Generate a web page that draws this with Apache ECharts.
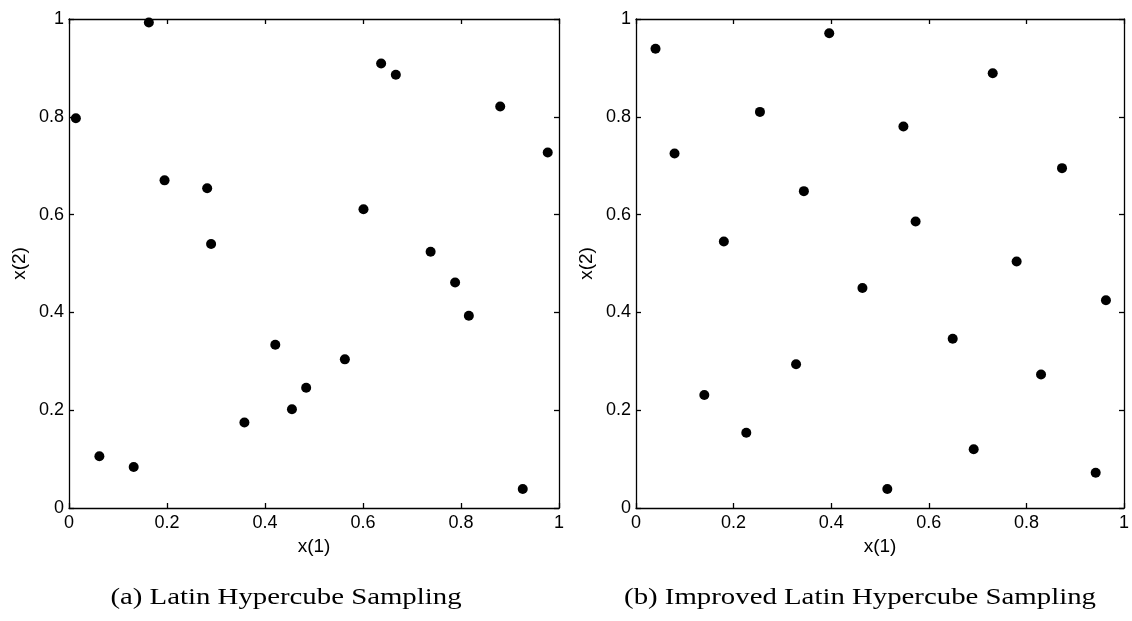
<!DOCTYPE html>
<html>
<head>
<meta charset="utf-8">
<script src="https://cdn.jsdelivr.net/npm/echarts@6/dist/echarts.min.js"></script>
<style>
html,body{margin:0;padding:0;background:#fff;}
#chart{width:1132px;height:621px;}
</style>
</head>
<body>
<div id="chart"></div>
<script>
// Panel (a): Latin Hypercube Sampling
const lhsX1 = [0.163, 0.014, 0.195, 0.282, 0.290, 0.637, 0.667, 0.880, 0.977, 0.601, 0.738, 0.062, 0.132, 0.358, 0.421, 0.455, 0.788, 0.816, 0.563, 0.484, 0.926];
const lhsX2 = [0.993, 0.797, 0.670, 0.654, 0.540, 0.909, 0.886, 0.821, 0.727, 0.611, 0.524, 0.106, 0.084, 0.175, 0.334, 0.202, 0.461, 0.393, 0.304, 0.246, 0.039];
// Panel (b): Improved Latin Hypercube Sampling
const ilhsX1 = [0.040, 0.396, 0.254, 0.079, 0.344, 0.180, 0.731, 0.548, 0.873, 0.573, 0.464, 0.328, 0.140, 0.226, 0.780, 0.963, 0.649, 0.830, 0.692, 0.942, 0.515];
const ilhsX2 = [0.939, 0.971, 0.810, 0.725, 0.648, 0.545, 0.889, 0.780, 0.695, 0.586, 0.450, 0.294, 0.231, 0.154, 0.504, 0.425, 0.346, 0.273, 0.120, 0.072, 0.039];
const captions = ['(a) Latin Hypercube Sampling', '(b) Improved Latin Hypercube Sampling'];
const xName = 'x(1)';
const yName = 'x(2)';

const zip = (a, b) => a.map((v, i) => [v, b[i]]);

const tickFont = {fontFamily: 'Liberation Sans', fontSize: 18, color: '#000'};
const nameFont = {fontFamily: 'Liberation Sans', fontSize: 19, color: '#000'};
const lineStyle = {color: '#000', width: 1.3};

function fmt(v) { return v === 0 ? '0' : v === 1 ? '1' : String(+v.toFixed(1)); }

function mainX(gi) {
  return {type: 'value', gridIndex: gi, min: 0, max: 1, interval: 0.2,
    name: xName, nameLocation: 'middle', nameGap: 28,
    nameTextStyle: nameFont,
    axisLine: {show: true, lineStyle: lineStyle},
    axisTick: {show: true, inside: true, length: 5, lineStyle: lineStyle},
    axisLabel: Object.assign({margin: 6, formatter: fmt}, tickFont),
    splitLine: {show: false}};
}
function mainY(gi) {
  return {type: 'value', gridIndex: gi, min: 0, max: 1, interval: 0.2,
    name: yName, nameLocation: 'middle', nameGap: 40,
    nameTextStyle: nameFont,
    axisLine: {show: true, lineStyle: lineStyle},
    axisTick: {show: true, inside: true, length: 5, lineStyle: lineStyle},
    axisLabel: Object.assign({margin: 5, formatter: fmt}, tickFont),
    splitLine: {show: false}};
}
function mirrorX(gi) {
  return {type: 'value', gridIndex: gi, position: 'top', min: 0, max: 1, interval: 0.2,
    axisLine: {show: true, onZero: false, lineStyle: lineStyle},
    axisTick: {show: true, inside: true, length: 5, lineStyle: lineStyle},
    axisLabel: {show: false}, splitLine: {show: false}};
}
function mirrorY(gi) {
  return {type: 'value', gridIndex: gi, position: 'right', min: 0, max: 1, interval: 0.2,
    axisLine: {show: true, onZero: false, lineStyle: lineStyle},
    axisTick: {show: true, inside: true, length: 5, lineStyle: lineStyle},
    axisLabel: {show: false}, splitLine: {show: false}};
}

const captionStyle = {fontFamily: 'Liberation Serif', fontSize: 24, fill: '#000', textAlign: 'center', textVerticalAlign: 'middle'};

const chart = echarts.init(document.getElementById('chart'), null, {renderer: 'canvas'});
chart.setOption({
  animation: false,
  backgroundColor: '#fff',
  graphic: [
    {type: 'text', x: 286, y: 598, scaleX: 1.2, style: Object.assign({text: captions[0]}, captionStyle)},
    {type: 'text', x: 860, y: 598, scaleX: 1.2, style: Object.assign({text: captions[1]}, captionStyle)}
  ],
  grid: [
    {left: 69, top: 19, width: 490, height: 489},
    {left: 636, top: 19, width: 489.5, height: 489}
  ],
  xAxis: [mainX(0), mainX(1), mirrorX(0), mirrorX(1)],
  yAxis: [mainY(0), mainY(1), mirrorY(0), mirrorY(1)],
  series: [
    {type: 'scatter', xAxisIndex: 0, yAxisIndex: 0, data: zip(lhsX1, lhsX2),
     symbol: 'circle', symbolSize: 10, itemStyle: {color: '#000', opacity: 1}},
    {type: 'scatter', xAxisIndex: 1, yAxisIndex: 1, data: zip(ilhsX1, ilhsX2),
     symbol: 'circle', symbolSize: 10, itemStyle: {color: '#000', opacity: 1}}
  ]
});
</script>
</body>
</html>
